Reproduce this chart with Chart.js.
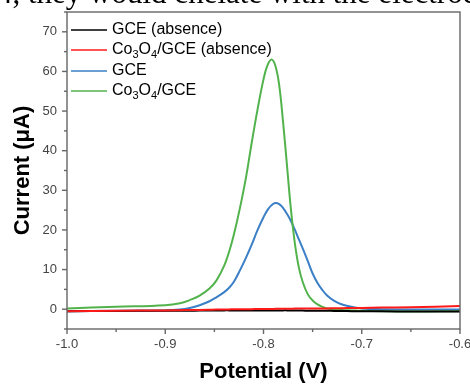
<!DOCTYPE html>
<html>
<head>
<meta charset="utf-8">
<script src="https://cdn.jsdelivr.net/npm/chart.js@4/dist/chart.umd.min.js"></script>
<style>
  html, body { margin: 0; padding: 0; background: #fff; }
  #wrap { position: relative; width: 470px; height: 388px; overflow: hidden; }
  #chart { position: absolute; left: 0; top: 0; }
  #caption {
    position: absolute; left: -3px; top: -25px; white-space: nowrap;
    font-family: "Liberation Serif", "Times New Roman", serif; font-size: 31px; color: #000;
  }
</style>
</head>
<body>
<div id="wrap">
  <canvas id="chart" width="470" height="388"></canvas>
  <div id="caption">4, they would chelate with the electrode surface</div>
</div>
<script>
// potential (V)
const potential = [-1.0, -0.95, -0.9, -0.885, -0.875, -0.865, -0.855, -0.848, -0.84, -0.835,
  -0.83, -0.824, -0.818, -0.812, -0.806, -0.8, -0.796, -0.792, -0.788, -0.784,
  -0.78, -0.776, -0.772, -0.768, -0.764, -0.76, -0.755, -0.75, -0.745, -0.74,
  -0.735, -0.728, -0.72, -0.71, -0.7, -0.68, -0.65, -0.6];

// current (uA)
const gceAbsence = [-0.5, -0.45, -0.4, -0.4, -0.4, -0.35, -0.35, -0.35, -0.3, -0.3,
  -0.3, -0.3, -0.3, -0.3, -0.3, -0.3, -0.3, -0.3, -0.3, -0.3,
  -0.3, -0.3, -0.35, -0.35, -0.35, -0.35, -0.4, -0.4, -0.4, -0.4,
  -0.4, -0.45, -0.45, -0.5, -0.5, -0.55, -0.6, -0.6];
const co3o4Absence = [-0.5, -0.4, -0.3, -0.25, -0.2, -0.2, -0.15, -0.1, -0.1, -0.05,
  0, 0, 0, 0, 0.05, 0.05, 0.05, 0.05, 0.1, 0.1,
  0.1, 0.1, 0.1, 0.15, 0.15, 0.15, 0.15, 0.2, 0.2, 0.2,
  0.2, 0.25, 0.25, 0.3, 0.3, 0.4, 0.5, 0.8];
const gce = [-0.5, -0.4, -0.3, -0.1, 0.3, 1.0, 2.0, 3.0, 4.3, 5.4,
  7.0, 9.8, 12.9, 16.3, 20.0, 23.2, 25.0, 26.2, 26.8, 26.5,
  25.5, 24.0, 22.2, 20.0, 17.6, 15.3, 12.2, 9.0, 6.6, 4.8,
  3.4, 2.1, 1.2, 0.6, 0.2, 0.0, -0.1, -0.1];
const co3o4 = [0.2, 0.6, 1.0, 1.5, 2.3, 3.4, 5.2, 7.2, 11.0, 14.5,
  19.0, 25.5, 33.0, 42.0, 50.5, 58.0, 61.5, 63.0, 61.5, 56.5,
  47.0, 36.0, 25.0, 16.5, 10.5, 6.8, 3.8, 2.2, 1.2, 0.6,
  0.2, 0.0, -0.2, -0.3, -0.4, -0.5, -0.6, -0.5];

const seriesNames = ["GCE (absence)", "Co₃O₄/GCE (absence)", "GCE", "Co₃O₄/GCE"];
const seriesColors = ["#000000", "#ff1a1a", "#3b7fc6", "#52b34c"];
const seriesValues = [gceAbsence, co3o4Absence, gce, co3o4];
const drawOrder = [1, 0, 3, 2];

const xTitle = "Potential (V)";
const yTitle = "Current (μA)";

const datasets = seriesNames.map((name, i) => ({
  label: name,
  data: potential.map((p, j) => ({ x: p, y: seriesValues[i][j] })),
  borderColor: seriesColors[i],
  borderWidth: 2,
  pointRadius: 0,
  tension: 0.4,
  order: drawOrder[i]
}));

const frameAndLegend = {
  id: "frameAndLegend",
  afterDatasetsDraw(chart) {
    const { ctx, chartArea: a, scales } = chart;
    ctx.save();
    // frame
    ctx.strokeStyle = "#666";
    ctx.lineWidth = 1.4;
    ctx.strokeRect(a.left, a.top, a.right - a.left, a.bottom - a.top);
    // x ticks
    const xs = scales.x;
    for (let k = 0; k <= 8; k++) {
      const v = -1 + k * 0.05;
      const px = xs.getPixelForValue(v);
      const len = k % 2 === 0 ? 5 : 3;
      ctx.beginPath();
      ctx.moveTo(px, a.bottom);
      ctx.lineTo(px, a.bottom + len);
      ctx.stroke();
    }
    // y ticks
    const ys = scales.y;
    for (let v = -5; v <= 75; v += 5) {
      const py = ys.getPixelForValue(v);
      const len = v % 10 === 0 ? 5 : 3;
      ctx.beginPath();
      ctx.moveTo(a.left, py);
      ctx.lineTo(a.left - len, py);
      ctx.stroke();
    }
    // legend
    const rows = [30, 50, 71, 91];
    const sub = { "₀": "0", "₁": "1", "₂": "2", "₃": "3", "₄": "4", "₅": "5", "₆": "6", "₇": "7", "₈": "8", "₉": "9" };
    ctx.textBaseline = "middle";
    ctx.textAlign = "left";
    seriesNames.forEach((name, i) => {
      const y = rows[i];
      ctx.strokeStyle = seriesColors[i];
      ctx.globalAlpha = 0.75;
      ctx.lineWidth = 2;
      ctx.beginPath();
      ctx.moveTo(71, y);
      ctx.lineTo(107, y);
      ctx.stroke();
      ctx.globalAlpha = 1;
      ctx.fillStyle = "#000";
      let x = 112;
      for (const ch of name) {
        if (sub[ch]) {
          ctx.font = "11px Arial, 'Liberation Sans', sans-serif";
          ctx.fillText(sub[ch], x, y + 5);
          x += ctx.measureText(sub[ch]).width;
        } else {
          ctx.font = "16px Arial, 'Liberation Sans', sans-serif";
          ctx.fillText(ch, x, y);
          x += ctx.measureText(ch).width;
        }
      }
    });
    ctx.restore();
  }
};

new Chart(document.getElementById("chart"), {
  type: "line",
  data: { datasets },
  options: {
    responsive: false,
    animation: false,
    layout: { padding: { top: 12, right: 10, left: 0, bottom: 0 } },
    plugins: { legend: { display: false }, tooltip: { enabled: false } },
    scales: {
      x: {
        type: "linear",
        min: -1.0,
        max: -0.6,
        grid: { display: true, drawOnChartArea: false, color: "rgba(0,0,0,0)", tickLength: 5 },
        border: { display: false },
        ticks: {
          stepSize: 0.05,
          padding: 3,
          color: "#444",
          font: { family: "Arial, 'Liberation Sans', sans-serif", size: 13 },
          maxRotation: 0,
          autoSkip: false,
          callback: v => Math.round(v * 100) % 10 === 0 ? v.toFixed(1) : ""
        },
        title: {
          display: true,
          text: xTitle,
          color: "#000",
          font: { family: "Arial, 'Liberation Sans', sans-serif", size: 22, weight: "bold" },
          padding: { top: 0, bottom: 3 }
        },
        afterFit(s) { s.height = 59; s.paddingLeft = 0; s.paddingRight = 0; }
      },
      y: {
        min: -5,
        max: 75,
        grid: { display: true, drawOnChartArea: false, color: "rgba(0,0,0,0)", tickLength: 5 },
        border: { display: false },
        ticks: {
          stepSize: 5,
          padding: 5,
          color: "#444",
          font: { family: "Arial, 'Liberation Sans', sans-serif", size: 13 },
          autoSkip: false,
          callback: v => Math.round(v) % 10 === 0 ? String(v) : ""
        },
        title: {
          display: true,
          text: yTitle,
          color: "#000",
          font: { family: "Arial, 'Liberation Sans', sans-serif", size: 22, weight: "bold" },
          padding: { top: 10, bottom: 0 }
        },
        afterFit(s) { s.width = 67; s.paddingTop = 0; s.paddingBottom = 0; }
      }
    }
  },
  plugins: [frameAndLegend]
});
</script>
</body>
</html>
